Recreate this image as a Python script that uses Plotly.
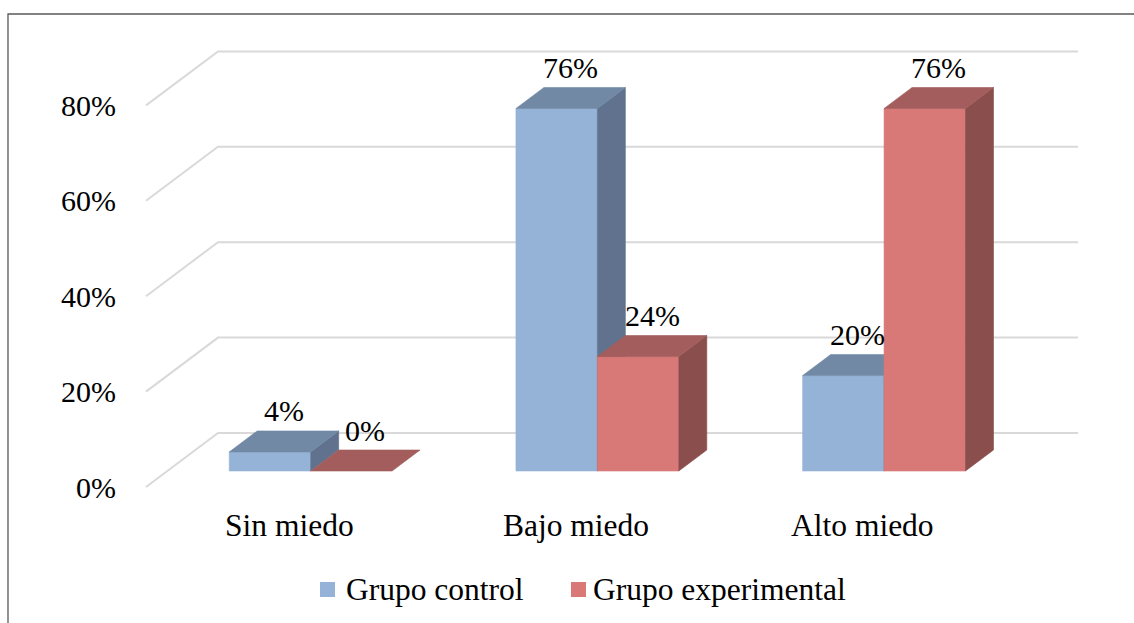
import plotly.graph_objects as go

categories = ["Sin miedo", "Bajo miedo", "Alto miedo"]
series_names = ["Grupo control", "Grupo experimental"]
control = [4, 76, 20]
experimental = [0, 24, 76]
y_ticks = [0, 20, 40, 60, 80]
y_tick_labels = ["0%", "20%", "40%", "60%", "80%"]

W, H = 1134, 623

# oblique projection: x in category units, y in percent on the front plane
PX_PER_CAT = 286.7
PX_PER_PCT = 4.77
X0_PX, Y0_PX = 146, 487          # front-left corner of the floor
DEPTH_DX = 72 / PX_PER_CAT       # horizontal shift for the full floor depth
DEPTH_DY = 54 / PX_PER_PCT       # vertical shift for the full floor depth
BAR_W = 0.284
BAR_D0, BAR_D1 = 0.296, 0.685    # bar front / back depth

FONT = "Times New Roman, Liberation Serif, serif"
GRID = "#D9D9D9"

# face colours per series: front, top, side
palette = [
    ("#95B3D7", "#7289A6", "#60728D"),
    ("#D87978", "#A35D5C", "#8A4E4D"),
]
legend_colors = ["#95B3D7", "#D87978"]


def px_to_cat(px):
    return -0.5 + (px - X0_PX) / PX_PER_CAT


def py_to_pct(py):
    return (Y0_PX - py) / PX_PER_PCT


def proj(c, v, d):
    return c + d * DEPTH_DX, v + d * DEPTH_DY


def poly(points, color):
    xs, ys = zip(*[proj(*p) for p in points])
    xs = list(xs) + [xs[0]]
    ys = list(ys) + [ys[0]]
    return go.Scatter(x=xs, y=ys, mode="lines", fill="toself",
                      fillcolor=color, line=dict(color=color, width=0.6),
                      hoverinfo="skip", showlegend=False)


fig = go.Figure()

# walls: left-wall diagonals and back-wall gridlines
n_cat = len(categories)
for v in y_ticks:
    pts = [proj(-0.5, v, 0), proj(-0.5, v, 1), proj(n_cat - 0.5, v, 1)]
    fig.add_trace(go.Scatter(x=[p[0] for p in pts], y=[p[1] for p in pts],
                             mode="lines", line=dict(color=GRID, width=2),
                             hoverinfo="skip", showlegend=False))

annotations = []
series = [control, experimental]
for i, cat in enumerate(categories):
    for s, values in enumerate(series):
        v = values[i]
        xl = i - BAR_W + s * BAR_W
        xr = xl + BAR_W
        front, top, side = palette[s]
        if v > 0:
            fig.add_trace(poly([(xl, 0, BAR_D0), (xr, 0, BAR_D0),
                                (xr, v, BAR_D0), (xl, v, BAR_D0)], front))
            fig.add_trace(poly([(xr, 0, BAR_D0), (xr, 0, BAR_D1),
                                (xr, v, BAR_D1), (xr, v, BAR_D0)], side))
        fig.add_trace(poly([(xl, v, BAR_D0), (xr, v, BAR_D0),
                            (xr, v, BAR_D1), (xl, v, BAR_D1)], top))
        # value label above the bar's top face
        lx = (proj(xl, v, BAR_D0)[0] + proj(xr, v, BAR_D1)[0]) / 2
        ly = proj(xl, v, BAR_D1)[1] + 20 / PX_PER_PCT
        annotations.append(dict(x=lx, y=ly, text=f"{v}%", showarrow=False,
                                xanchor="center", yanchor="middle",
                                font=dict(family=FONT, size=30, color="black")))
    annotations.append(dict(x=i, y=py_to_pct(525), text=cat, showarrow=False,
                            xanchor="center", yanchor="middle",
                            font=dict(family=FONT, size=31.5, color="black")))

for v, lab in zip(y_ticks, y_tick_labels):
    annotations.append(dict(x=px_to_cat(118), y=v, text=lab, showarrow=False,
                            xanchor="right", yanchor="middle",
                            font=dict(family=FONT, size=30, color="black")))

# legend
shapes = []
legend_items = [(320, 344), (571, 591)]
for (sq_x, tx), name, col in zip(legend_items, series_names, legend_colors):
    shapes.append(dict(type="rect", xref="paper", yref="paper",
                       x0=sq_x / W, x1=(sq_x + 15) / W,
                       y0=1 - 597 / H, y1=1 - 582 / H,
                       fillcolor=col, line=dict(width=0)))
    annotations.append(dict(x=tx / W, y=1 - 589 / H, xref="paper", yref="paper",
                            text=name, showarrow=False, xanchor="left",
                            yanchor="middle",
                            font=dict(family=FONT, size=31.5, color="black")))

# chart frame
shapes.append(dict(type="rect", xref="paper", yref="paper",
                   x0=8 / W, x1=1.02, y0=-0.05, y1=1 - 14 / H,
                   line=dict(color="#595959", width=1.3), fillcolor="rgba(0,0,0,0)"))

fig.update_layout(
    width=W, height=H,
    margin=dict(l=0, r=0, t=0, b=0),
    paper_bgcolor="white", plot_bgcolor="white",
    showlegend=False,
    xaxis=dict(range=[px_to_cat(0), px_to_cat(W)], visible=False, fixedrange=True),
    yaxis=dict(range=[py_to_pct(H), py_to_pct(0)], visible=False, fixedrange=True),
    annotations=annotations,
    shapes=shapes,
)

fig.write_html("out.html")
